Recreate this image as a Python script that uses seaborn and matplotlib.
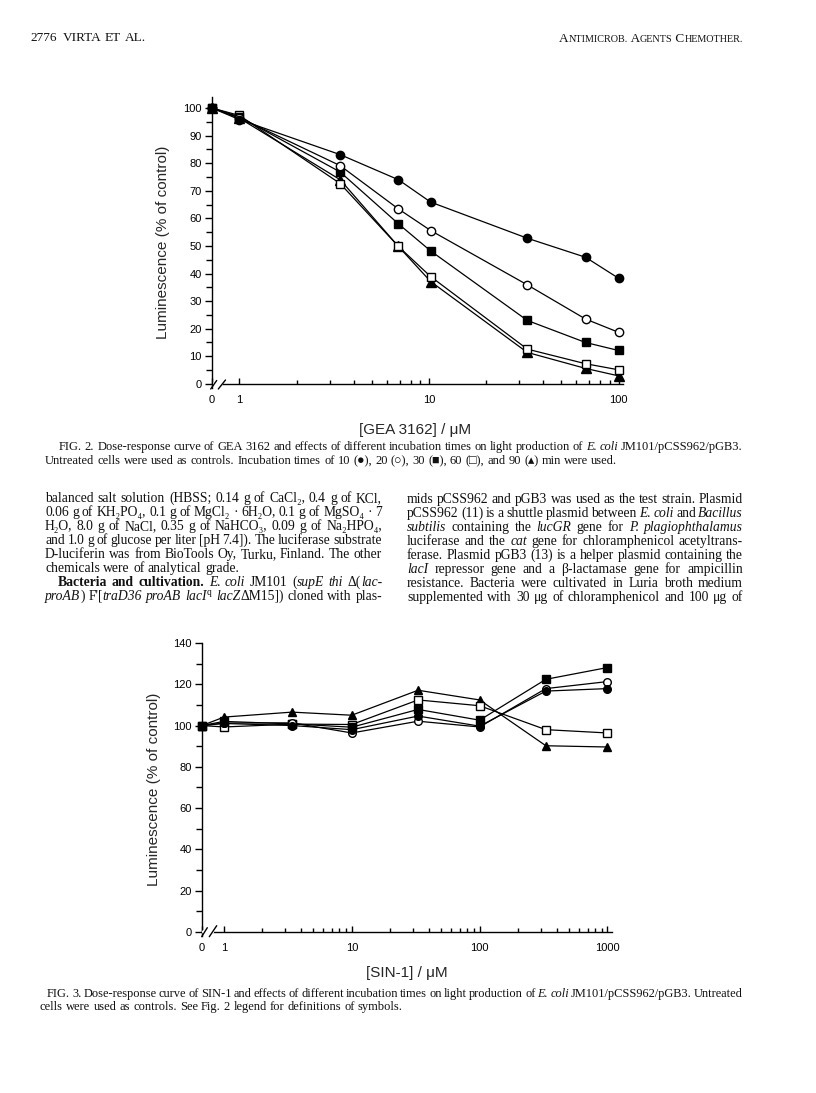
import matplotlib
matplotlib.use("Agg")
import matplotlib.pyplot as plt
from matplotlib.lines import Line2D
from matplotlib.ticker import FixedLocator, FixedFormatter, NullFormatter
import seaborn as sns

# ------------------------------------------------------------------ data
incubation_min = [10, 20, 30, 60, 90]

gea_conc_uM = [0, 1, 3.4, 6.9, 10.2, 33, 67, 100]
gea_lum_10 = [100, 95.8, 83.1, 74.0, 65.9, 52.8, 45.9, 38.3]
gea_lum_20 = [100, 96.5, 79.1, 63.4, 55.6, 35.9, 23.5, 18.7]
gea_lum_30 = [100, 96.8, 76.8, 58.0, 48.2, 23.0, 15.0, 12.1]
gea_lum_60 = [100, 97.3, 72.6, 49.8, 38.9, 12.6, 7.3, 5.1]
gea_lum_90 = [100, 96.3, 74.0, 49.8, 37.1, 11.4, 5.6, 2.9]

sin_conc_uM = [0, 1, 3.4, 10, 33, 100, 330, 1000]
sin_lum_10 = [100, 101.0, 100.0, 98.0, 104.6, 99.7, 116.7, 117.9]
sin_lum_20 = [100, 101.2, 101.3, 96.4, 102.1, 99.3, 117.9, 121.3]
sin_lum_30 = [100, 102.0, 100.8, 99.2, 107.8, 102.6, 122.4, 128.1]
sin_lum_60 = [100, 99.3, 100.7, 100.5, 112.4, 109.6, 98.0, 96.4]
sin_lum_90 = [100, 104.1, 106.5, 105.0, 117.1, 112.4, 90.2, 89.6]

gea_yticks = [0, 10, 20, 30, 40, 50, 60, 70, 80, 90, 100]
sin_yticks = [0, 20, 40, 60, 80, 100, 120, 140]
gea_xticks = [1, 10, 100]
sin_xticks = [1, 10, 100, 1000]
gea_xlabels = ["0", "1", "10", "100"]
sin_xlabels = ["0", "1", "10", "100", "1000"]

y_title = "Luminescence (% of control)"
gea_xtitle = "[GEA 3162] / \u03bcM"
sin_xtitle = "[SIN-1] / \u03bcM"

# ------------------------------------------------------------------ setup
W, H = 816, 1093
sns.set_theme(style="ticks")
plt.rcParams["font.family"] = ["Liberation Sans", "DejaVu Sans"]
plt.rcParams["mathtext.fontset"] = "custom"
plt.rcParams["mathtext.rm"] = "Liberation Serif"
plt.rcParams["mathtext.it"] = "Liberation Serif:italic"
plt.rcParams["mathtext.bf"] = "Liberation Serif:bold"
plt.rcParams["axes.edgecolor"] = "black"
plt.rcParams["xtick.color"] = "black"
plt.rcParams["ytick.color"] = "black"

fig = plt.figure(figsize=(W / 100, H / 100), dpi=100)
fig.patch.set_facecolor("white")
renderer = fig.canvas.get_renderer()

STYLE = {10: ("o", True), 20: ("o", False), 30: ("s", True),
         60: ("s", False), 90: ("^", True)}


def px_axes(left, top, right, bottom):
    return fig.add_axes([left / W, 1 - bottom / H, (right - left) / W, (bottom - top) / H])


def fig_line(x1, y1, x2, y2, **kw):
    fig.add_artist(Line2D([x1 / W, x2 / W], [1 - y1 / H, 1 - y2 / H],
                          transform=fig.transFigure, **kw))


def panel(ax, conc, series, x_zero, xlim, ylim, yticks, yminor, xticks,
          xlabels, xminor, xtitle, ms, ylab_x, xlab_xy):
    ax.set_xscale("log")
    xs = [x_zero if c == 0 else c for c in conc]
    for t in [90, 60, 30, 20, 10]:
        mk, filled = STYLE[t]
        sns.lineplot(x=xs, y=series[t], ax=ax, color="black", linewidth=0.9,
                     marker=mk, markersize=ms + (0.6 if mk == "^" else 0),
                     markerfacecolor="black" if filled else "white",
                     markeredgecolor="black", markeredgewidth=1.0,
                     clip_on=False, zorder=4)
    ax.set_xlim(*xlim)
    ax.set_ylim(*ylim)
    for s in ["top", "right"]:
        ax.spines[s].set_visible(False)
    ax.spines["bottom"].set_position(("data", 0))
    for s in ["left", "bottom"]:
        ax.spines[s].set_linewidth(1.0)
    ax.xaxis.set_major_locator(FixedLocator([x_zero] + xticks))
    ax.xaxis.set_major_formatter(FixedFormatter(xlabels))
    ax.xaxis.set_minor_locator(FixedLocator(xminor))
    ax.xaxis.set_minor_formatter(NullFormatter())
    ax.yaxis.set_major_locator(FixedLocator(yticks))
    ax.yaxis.set_minor_locator(FixedLocator(yminor))
    ax.tick_params(axis="x", which="both", direction="in", length=4, width=1.0,
                   pad=8, labelsize=8)
    ax.tick_params(axis="x", which="minor", length=3)
    ax.tick_params(axis="y", which="both", direction="out", length=5, width=1.0,
                   pad=2.5, labelsize=8)
    ax.tick_params(axis="y", which="minor", length=4)
    ax.set_ylabel(y_title, fontsize=11)
    ax.yaxis.set_label_coords(ylab_x, 0.5)
    ax.set_xlabel(xtitle, fontsize=11)
    ax.xaxis.set_label_coords(*xlab_xy)
    ax.xaxis.label.set_va("center")
    ax.grid(False)


# ------------------------------------------------------------------ FIG. 2
ax2 = px_axes(212, 97, 623, 388)
panel(ax2, gea_conc_uM,
      {10: gea_lum_10, 20: gea_lum_20, 30: gea_lum_30, 60: gea_lum_60, 90: gea_lum_90},
      x_zero=0.716, xlim=(0.716, 105.6), ylim=(-1.5, 104),
      yticks=gea_yticks, yminor=[5, 15, 25, 35, 45, 55, 65, 75, 85, 95],
      xticks=gea_xticks, xlabels=gea_xlabels,
      xminor=[2, 3, 4, 5, 6, 7, 8, 9, 20, 30, 40, 50, 60, 70, 80, 90],
      xtitle=gea_xtitle, ms=6.0, ylab_x=(170 - 212) / 411,
      xlab_xy=(0.494, (388 - 430) / 291))
# axis break
fig_line(214.5, 384, 221, 384, color="white", linewidth=3, zorder=10)
fig_line(210.7, 389, 216.7, 380.5, color="black", linewidth=1.0, zorder=11)
fig_line(218.3, 389, 225.5, 380, color="black", linewidth=1.0, zorder=11)

# ------------------------------------------------------------------ FIG. 3
ax3 = px_axes(202, 643, 612, 936)
panel(ax3, sin_conc_uM,
      {10: sin_lum_10, 20: sin_lum_20, 30: sin_lum_30, 60: sin_lum_60, 90: sin_lum_90},
      x_zero=0.673, xlim=(0.673, 1086), ylim=(-2, 140),
      yticks=sin_yticks, yminor=[10, 30, 50, 70, 90, 110, 130],
      xticks=sin_xticks, xlabels=sin_xlabels,
      xminor=[2, 3, 4, 5, 6, 7, 8, 9, 20, 30, 40, 50, 60, 70, 80, 90,
              200, 300, 400, 500, 600, 700, 800, 900],
      xtitle=sin_xtitle, ms=5.5, ylab_x=(161 - 202) / 410,
      xlab_xy=(0.5, (936 - 973) / 293))
fig_line(204, 932, 211.5, 932, color="white", linewidth=3, zorder=10)
fig_line(201.7, 936.7, 207.3, 927.7, color="black", linewidth=1.0, zorder=11)
fig_line(209.3, 936.7, 216.7, 925.7, color="black", linewidth=1.0, zorder=11)

# ------------------------------------------------------------------ page text
SERIF = ["Liberation Serif", "DejaVu Sans"]
INK = "#111111"


def parse(markup):
    words, cur = [], []
    state = {"it": False, "bd": False, "buf": ""}

    def flush():
        if state["buf"]:
            cur.append((state["buf"], state["it"], state["bd"]))
            state["buf"] = ""

    for ch in markup:
        if ch == "|":
            flush(); state["it"] = not state["it"]
        elif ch == "#":
            flush(); state["bd"] = not state["bd"]
        elif ch == " ":
            flush()
            if cur:
                words.append(list(cur)); cur.clear()
        else:
            state["buf"] += ch
    flush()
    if cur:
        words.append(list(cur))
    return words


def place_line(markup, y, x0, x1=None, size=9.5):
    words = parse(markup)

    def build(sz):
        objs = []
        for w in words:
            segs = []
            for s, i, b in w:
                t = fig.text(0, 1 - y / H, s, fontsize=sz, family=SERIF,
                             fontstyle="italic" if i else "normal",
                             fontweight="bold" if b else "normal",
                             va="baseline", ha="left", color=INK)
                segs.append([t, t.get_window_extent(renderer).width])
            objs.append(segs)
        return objs

    sz = size
    objs = build(sz)
    space = sz * 100 / 72 * 0.25
    total = sum(w for segs in objs for _, w in segs)
    gap = space
    if x1 is not None and len(objs) > 1:
        avail = x1 - x0
        need = total + 0.75 * space * (len(objs) - 1)
        if need > avail:
            for segs in objs:
                for t, _ in segs:
                    t.remove()
            sz = sz * avail / need
            objs = build(sz)
            total = sum(w for segs in objs for _, w in segs)
        gap = (avail - total) / (len(objs) - 1)
    x = x0
    for segs in objs:
        for t, w in segs:
            t.set_x(x / W)
            x += w
        x += gap


def place_pieces(pieces, y, x_right):
    objs = []
    for s, sz in pieces:
        t = fig.text(0, 1 - y / H, s, fontsize=sz, family=SERIF, va="baseline",
                     ha="left", color=INK)
        objs.append([t, t.get_window_extent(renderer).width])
    x = x_right - sum(w for _, w in objs)
    for t, w in objs:
        t.set_x(x / W)
        x += w


# header
place_line("2776", 41, 30, size=9.5)
place_line("VIRTA ET AL.", 41, 63, size=9.5)
place_pieces([("A", 9.5), ("NTIMICROB.", 7.3), (" A", 9.5), ("GENTS", 7.3),
              (" C", 9.5), ("HEMOTHER.", 7.3)], 42, 743)

# FIG. 2 legend
place_line("FIG. 2. Dose-response curve of GEA 3162 and effects of different "
           "incubation times on light production of |E. coli| JM101/pCSS962/pGB3.",
           450, 59, 743, size=9)
place_line("Untreated cells were used as controls. Incubation times of 10 (\u25cf), "
           "20 (\u25cb), 30 (\u25a0), 60 (\u25a1), and 90 (\u25b4) min were used.",
           464, 45, size=9)

left_col = [
    "balanced salt solution (HBSS; 0.14 g of CaCl\u2082, 0.4 g of KCl,",
    "0.06 g of KH\u2082PO\u2084, 0.1 g of MgCl\u2082 \u00b7 6H\u2082O, 0.1 g of MgSO\u2084 \u00b7 7",
    "H\u2082O, 8.0 g of NaCl, 0.35 g of NaHCO\u2083, 0.09 g of Na\u2082HPO\u2084,",
    "and 1.0 g of glucose per liter [pH 7.4]). The luciferase substrate",
    "D-luciferin was from BioTools Oy, Turku, Finland. The other",
    "chemicals were of analytical grade.",
    "#Bacteria and cultivation.# |E. coli| JM101 (|supE thi| \u0394(|lac-|",
    "|proAB|) F'[|traD36 proAB lacI$^\\mathrm{q}$ lacZ|\u0394M15]) cloned with plas-",
]
right_col = [
    "mids pCSS962 and pGB3 was used as the test strain. Plasmid",
    "pCSS962 (11) is a shuttle plasmid between |E. coli| and |Bacillus|",
    "|subtilis| containing the |lucGR| gene for |P. plagiophthalamus|",
    "luciferase and the |cat| gene for chloramphenicol acetyltrans-",
    "ferase. Plasmid pGB3 (13) is a helper plasmid containing the",
    "|lacI| repressor gene and a \u03b2-lactamase gene for ampicillin",
    "resistance. Bacteria were cultivated in Luria broth medium",
    "supplemented with 30 \u03bcg of chloramphenicol and 100 \u03bcg of",
]
for i, line in enumerate(left_col):
    y = 502 + 14 * i
    if i == 5:
        place_line(line, y, 45, size=9.8)
    elif i == 6:
        place_line(line, y, 58, 382, size=9.8)
    else:
        place_line(line, y, 45, 382, size=9.8)
for i, line in enumerate(right_col):
    place_line(line, 503 + 14 * i, 407, 743, size=9.8)

# FIG. 3 legend
place_line("FIG. 3. Dose-response curve of SIN-1 and effects of different incubation "
           "times on light production of |E. coli| JM101/pCSS962/pGB3. Untreated",
           997, 47, 743, size=9)
place_line("cells were used as controls. See Fig. 2 legend for definitions of symbols.",
           1010, 40, size=9)

fig.savefig("out.png", dpi=100, facecolor="white")
